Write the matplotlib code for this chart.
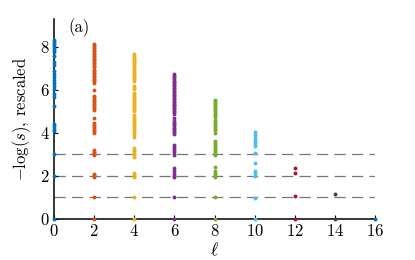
import matplotlib
matplotlib.use("Agg")
import matplotlib.pyplot as plt

plt.rcParams["font.family"] = "cmr10"
plt.rcParams["mathtext.fontset"] = "cm"
plt.rcParams["axes.formatter.use_mathtext"] = True

# angular momentum sectors and their colours
ell = [0, 2, 4, 6, 8, 10, 12, 14, 16]
colors = ["#0072BD", "#D95319", "#EDB120", "#7E2F8E", "#77AC30",
          "#4DBEEE", "#A2142F", "#404040", "#0072BD"]

# -log(s), rescaled, per sector
lev_0 = [8.3, 8.22, 8.15, 8.05, 7.95, 7.85, 7.75, 7.6, 7.3, 7.15, 6.9, 6.75,
         6.6, 6.45, 6.3, 6.2, 6.05, 5.8, 5.65, 5.25, 4.4, 4.3, 4.2, 4.1,
         3.0, 2.0, 0.0]
lev_2 = [8.15, 8.08, 8.0, 7.93, 7.86, 7.8, 7.73, 7.66, 7.6, 7.53, 7.46, 7.4,
         7.33, 7.26, 7.2, 7.13, 7.08, 6.95, 6.88, 6.8, 6.73, 6.66, 6.6, 6.53,
         6.46, 6.4, 6.3, 6.0, 5.72, 5.65, 5.58, 5.5, 5.43, 5.36, 5.3, 5.22,
         5.15, 5.08, 4.68, 4.45, 4.38, 4.3, 4.22, 4.15, 4.08, 4.0, 3.2, 3.12,
         3.05, 3.0, 2.95, 2.1, 2.03, 1.97, 1.0, 0.0]
lev_4 = [7.65, 7.58, 7.5, 7.43, 7.36, 7.3, 7.23, 7.16, 7.1, 7.03, 6.96, 6.9,
         6.83, 6.76, 6.7, 6.63, 6.56, 6.5, 6.43, 6.2, 6.1, 6.02, 5.86, 5.8,
         5.73, 5.66, 5.6, 5.53, 5.46, 5.4, 5.33, 5.26, 5.2, 5.13, 5.06, 5.0,
         4.84, 4.74, 4.66, 4.58, 4.5, 4.43, 4.36, 4.28, 4.2, 4.1, 3.95, 3.82,
         3.3, 3.22, 3.15, 3.07, 3.0, 2.9, 2.15, 2.08, 2.0, 1.95, 1.0, 0.0]
lev_6 = [6.72, 6.65, 6.58, 6.5, 6.43, 6.36, 6.3, 6.23, 6.16, 6.1, 6.03, 5.96,
         5.9, 5.83, 5.76, 5.7, 5.63, 5.56, 5.5, 5.43, 5.36, 5.3, 5.23, 5.16,
         5.1, 5.03, 4.96, 4.88, 4.7, 4.55, 4.47, 4.4, 4.32, 4.25, 4.18, 4.1,
         4.02, 3.95, 3.45, 3.35, 3.25, 3.15, 3.05, 2.95, 2.35, 2.25, 2.1, 2.0,
         1.95, 1.0, 0.0]
lev_8 = [5.55, 5.48, 5.4, 5.33, 5.26, 5.2, 5.12, 5.05, 4.98, 4.9, 4.82, 4.75,
         4.58, 4.5, 4.42, 4.35, 4.28, 4.2, 4.12, 4.0, 3.62, 3.55, 3.48, 3.4,
         3.32, 3.25, 3.15, 3.05, 2.95, 2.4, 2.25, 2.12, 2.05, 1.97, 1.0, 0.0]
lev_10 = [4.06, 3.9, 3.75, 3.64, 3.52, 3.4, 3.06, 2.62, 2.25, 2.12, 2.0,
          0.99, 0.0]
lev_12 = [2.39, 2.12, 1.07, 0.0]
lev_14 = [1.16, 0.0]
lev_16 = [0.0]
levels = [lev_0, lev_2, lev_4, lev_6, lev_8, lev_10, lev_12, lev_14, lev_16]

guides = [1, 2, 3]

fig = plt.figure(figsize=(4.15, 2.6), dpi=100)
ax = fig.add_axes([0.130, 0.158, 0.774, 0.769])

for g in guides:
    ax.plot([0, 16], [g, g], color="#777777", lw=0.9, ls=(0, (9, 5)), zorder=1)

for l, vals, c in zip(ell, levels, colors):
    ax.plot([l] * len(vals), vals, "o", color=c, ms=2.8, mew=0, zorder=3,
            clip_on=False)

ax.set_xlim(0, 16)
ax.set_ylim(0, 9.3)
ax.set_xticks(ell)
ax.set_yticks([0, 2, 4, 6, 8])
ax.spines["top"].set_visible(False)
ax.spines["right"].set_visible(False)
ax.spines["left"].set_linewidth(1.1)
ax.spines["bottom"].set_linewidth(1.1)
ax.tick_params(direction="in", length=3, width=0.8, labelsize=12, pad=3)
for sp in ax.spines.values():
    sp.set_zorder(2)

ax.set_xlabel(r"$\ell$", fontsize=13, labelpad=1)
ax.set_ylabel(r"$-\log(s)$, rescaled", fontsize=12, labelpad=5)
ax.text(0.7, 9.35, "(a)", fontsize=12, va="top", ha="left")

fig.savefig("out.png", dpi=100)
